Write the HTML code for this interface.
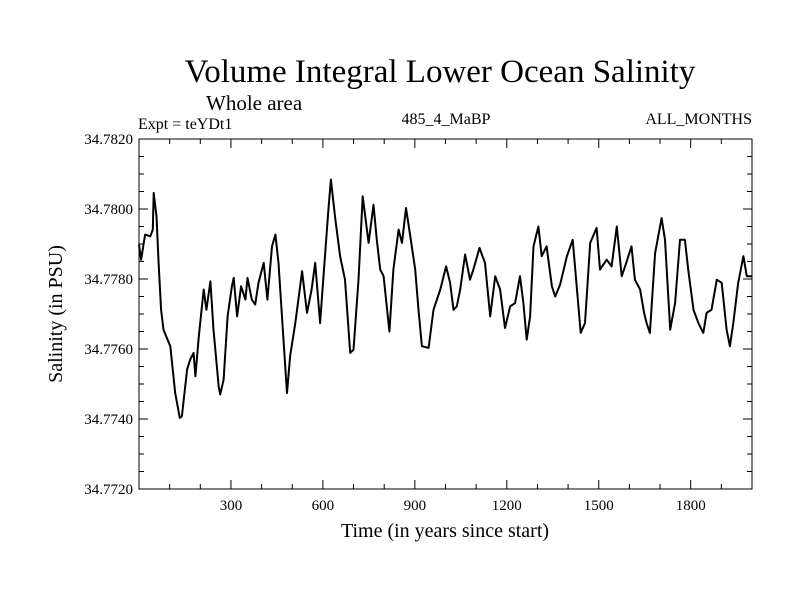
<!DOCTYPE html>
<html><head><meta charset="utf-8"><style>
body{margin:0;background:#fff}
svg text{font-family:"Liberation Serif",serif;fill:#000}
</style></head><body>
<svg width="800" height="600" xmlns="http://www.w3.org/2000/svg">
<text x="440" y="82" font-size="33" text-anchor="middle">Volume Integral Lower Ocean Salinity</text>
<text x="206" y="110" font-size="21">Whole area</text>
<text x="138" y="129" font-size="16">Expt = teYDt1</text>
<text x="446" y="124" font-size="16" text-anchor="middle">485_4_MaBP</text>
<text x="752" y="124" font-size="16" text-anchor="end">ALL_MONTHS</text>
<g id="axes"></g>
<polyline id="series" fill="none" stroke="#000" stroke-width="2" stroke-linejoin="round"/>
<rect x="139" y="139" width="613" height="350" fill="none" stroke="#000" stroke-width="1"/>
<text x="445" y="537" font-size="20" text-anchor="middle">Time (in years since start)</text>
<text x="0" y="0" font-size="20" text-anchor="middle" transform="translate(62,314) rotate(-90)">Salinity (in PSU)</text>
</svg>
<script>
const years=[0,7,20,37,45,48,57,64,72,80,102,118,133,140,157,167,178,184,195,211,220,233,243,260,265,276,289,303,309,320,333,347,354,368,379,390,407,419,434,445,455,472,483,493,510,532,548,563,575,591,602,618,626,640,656,672,689,700,716,730,749,765,776,787,798,817,830,847,858,871,885,901,912,923,945,961,983,1002,1015,1026,1037,1048,1064,1080,1091,1111,1129,1146,1162,1178,1194,1211,1227,1243,1254,1265,1276,1287,1303,1314,1330,1347,1358,1374,1396,1415,1428,1441,1455,1472,1493,1504,1526,1542,1559,1575,1586,1607,1618,1635,1648,1656,1667,1684,1705,1716,1733,1749,1765,1781,1792,1809,1825,1841,1852,1868,1885,1901,1917,1928,1939,1955,1972,1983,2000];
const salinity=[34.77898,34.77855,34.77927,34.77922,34.77941,34.78046,34.77979,34.77846,34.77712,34.77655,34.77608,34.77474,34.77403,34.77408,34.77541,34.77570,34.77589,34.77522,34.77636,34.77770,34.77712,34.77793,34.77655,34.77493,34.77470,34.77512,34.77693,34.77779,34.77803,34.77693,34.77779,34.77741,34.77803,34.77741,34.77727,34.77789,34.77846,34.77741,34.77893,34.77927,34.77846,34.77617,34.77474,34.77579,34.77674,34.77822,34.77703,34.77770,34.77846,34.77674,34.77808,34.77998,34.78084,34.77974,34.77865,34.77798,34.77589,34.77598,34.77798,34.78036,34.77903,34.78012,34.77912,34.77827,34.77808,34.77650,34.77827,34.77941,34.77903,34.78003,34.77922,34.77827,34.77712,34.77608,34.77603,34.77712,34.77770,34.77836,34.77789,34.77712,34.77722,34.77770,34.77870,34.77798,34.77827,34.77889,34.77846,34.77693,34.77808,34.77770,34.77660,34.77722,34.77731,34.77808,34.77731,34.77627,34.77693,34.77893,34.77950,34.77865,34.77893,34.77779,34.77750,34.77784,34.77865,34.77912,34.77779,34.77646,34.77674,34.77903,34.77946,34.77827,34.77855,34.77836,34.77950,34.77808,34.77836,34.77893,34.77798,34.77770,34.77703,34.77674,34.77646,34.77874,34.77974,34.77912,34.77655,34.77731,34.77912,34.77912,34.77827,34.77712,34.77674,34.77646,34.77703,34.77712,34.77798,34.77789,34.77655,34.77608,34.77674,34.77789,34.77865,34.77808,34.77808];
const xTicks=[300,600,900,1200,1500,1800];
const yTicks=[34.772,34.774,34.776,34.778,34.780,34.782];
const xMin=0,xMax=2000,yMin=34.772,yMax=34.782;
const L=139,R=752,T=139,B=489;
const sx=v=>L+(v-xMin)/(xMax-xMin)*(R-L);
const sy=v=>B-(v-yMin)/(yMax-yMin)*(B-T);
const NS="http://www.w3.org/2000/svg";
const g=document.getElementById('axes');
function line(x1,y1,x2,y2){const l=document.createElementNS(NS,'line');l.setAttribute('x1',x1);l.setAttribute('y1',y1);l.setAttribute('x2',x2);l.setAttribute('y2',y2);l.setAttribute('stroke','#000');l.setAttribute('stroke-width','1');


g.appendChild(l);}
for(let v=100;v<xMax;v+=100){const big=v%300===0;const x=sx(v);line(x,B,x,B-(big?9:5));line(x,T,x,T+(big?9:5));}
for(let v=yMin;v<=yMax+1e-9;v+=0.0005){const big=Math.abs(((v-yMin)/0.002)-Math.round((v-yMin)/0.002))<1e-6;const y=sy(v);line(L,y,L+(big?9:5),y);line(R,y,R-(big?9:5),y);}
xTicks.forEach(v=>{const t=document.createElementNS(NS,'text');t.setAttribute('x',sx(v));t.setAttribute('y',B+21);t.setAttribute('font-size','15');t.setAttribute('text-anchor','middle');t.textContent=v;


g.appendChild(t);});
yTicks.forEach(v=>{const t=document.createElementNS(NS,'text');t.setAttribute('x',L-6);t.setAttribute('y',sy(v)+5);t.setAttribute('font-size','15');t.setAttribute('text-anchor','end');t.textContent=v.toFixed(4);


g.appendChild(t);});
document.getElementById('series').setAttribute('points',years.map((yr,i)=>sx(yr).toFixed(1)+','+sy(salinity[i]).toFixed(1)).join(' '));
</script>
</body></html>
